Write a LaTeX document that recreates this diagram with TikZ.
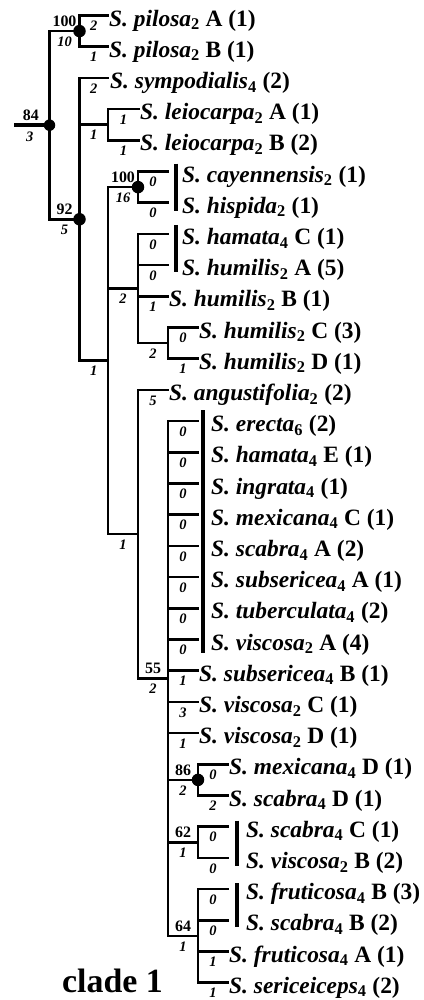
\documentclass[tikz,border=0pt]{standalone}
\usepackage{fontspec}
\setmainfont{Liberation Serif}
\newcommand\leaflab[3]{{\bfseries\itshape #1}\textsubscript{\bfseries\upshape #2}\ {\bfseries\upshape #3}}
\newcommand\yy[1]{(15.5+31.2*(#1-1))}
\tikzset{
  br/.style={line width=2.5bp, line cap=rect, line join=miter},
  rootbr/.style={line width=4bp},
  leaf/.style={anchor=base west, inner sep=0pt, font=\fontsize{23.5}{24}\selectfont},
  len/.style={inner sep=0pt, yshift=-10.5bp, font=\fontsize{14.5}{14.5}\selectfont\bfseries\itshape},
  sup/.style={inner sep=0pt, yshift=10bp, font=\fontsize{16}{16}\selectfont\bfseries},
  dot/.style={circle, fill=black, inner sep=0pt, minimum size=12.5bp},
  bar/.style={line width=4.5bp},
  cladelab/.style={anchor=base, inner sep=0pt, font=\fontsize{34}{34}\selectfont\bfseries}
}
\begin{document}
\begin{tikzpicture}[x=1bp,y=-1bp]
\useasboundingbox (0,0) rectangle (423,1000);
\pgfmathsetmacro\yP{(\yy{1}+\yy{2})/2}
\pgfmathsetmacro\yL{(\yy{4}+\yy{5})/2}
\pgfmathsetmacro\yC{(\yy{6}+\yy{7})/2}
\pgfmathsetmacro\yHD{(\yy{11}+\yy{12})/2}
\pgfmathsetmacro\yH{(\yy{8}+\yHD)/2}
\pgfmathsetmacro\yEF{(\yy{25}+\yy{26})/2}
\pgfmathsetmacro\yST{(\yy{27}+\yy{28})/2}
\pgfmathsetmacro\ySF{(\yy{29}+\yy{32})/2}
\pgfmathsetmacro\yFF{(\yy{14}+\ySF)/2}
\pgfmathsetmacro\yA{(\yy{13}+\yFF)/2}
\pgfmathsetmacro\yB{(\yC+\yA)/2}
\pgfmathsetmacro\yNN{(\yy{3}+\yB)/2}
\pgfmathsetmacro\yR{(\yP+\yNN)/2}
% internal nodes
\coordinate (R0) at (14,\yR);
\coordinate (R) at (49.5,\yR);
\coordinate (P) at (79.5,\yP);
\coordinate (N92) at (79.5,\yNN);
\coordinate (L) at (108,\yL);
\coordinate (B) at (108,\yB);
\coordinate (C100) at (138,\yC);
\coordinate (H) at (138,\yH);
\coordinate (HD) at (168,\yHD);
\coordinate (A) at (138,\yA);
\coordinate (N55) at (168,\yFF);
\coordinate (N86) at (198,\yEF);
\coordinate (N62) at (198,\yST);
\coordinate (N64) at (198,\ySF);
% leaf branch ends and labels: index / end x / text x / text
\foreach \i/\xe/\xt/\txt in {
  1/108/109/{\leaflab{S. pilosa}{2}{A (1)}},
  2/108/109/{\leaflab{S. pilosa}{2}{B (1)}},
  3/108/110/{\leaflab{S. sympodialis}{4}{(2)}},
  4/139/140/{\leaflab{S. leiocarpa}{2}{A (1)}},
  5/139/140/{\leaflab{S. leiocarpa}{2}{B (2)}},
  6/168/182/{\leaflab{S. cayennensis}{2}{(1)}},
  7/168/182/{\leaflab{S. hispida}{2}{(1)}},
  8/168/182/{\leaflab{S. hamata}{4}{C (1)}},
  9/168/182/{\leaflab{S. humilis}{2}{A (5)}},
  10/168/169/{\leaflab{S. humilis}{2}{B (1)}},
  11/198/199/{\leaflab{S. humilis}{2}{C (3)}},
  12/198/199/{\leaflab{S. humilis}{2}{D (1)}},
  13/168/169/{\leaflab{S. angustifolia}{2}{(2)}},
  14/198/211/{\leaflab{S. erecta}{6}{(2)}},
  15/198/211/{\leaflab{S. hamata}{4}{E (1)}},
  16/198/211/{\leaflab{S. ingrata}{4}{(1)}},
  17/198/211/{\leaflab{S. mexicana}{4}{C (1)}},
  18/198/211/{\leaflab{S. scabra}{4}{A (2)}},
  19/198/211/{\leaflab{S. subsericea}{4}{A (1)}},
  20/198/211/{\leaflab{S. tuberculata}{4}{(2)}},
  21/198/211/{\leaflab{S. viscosa}{2}{A (4)}},
  22/198/199/{\leaflab{S. subsericea}{4}{B (1)}},
  23/198/199/{\leaflab{S. viscosa}{2}{C (1)}},
  24/198/199/{\leaflab{S. viscosa}{2}{D (1)}},
  25/228/229/{\leaflab{S. mexicana}{4}{D (1)}},
  26/228/229/{\leaflab{S. scabra}{4}{D (1)}},
  27/228/246/{\leaflab{S. scabra}{4}{C (1)}},
  28/228/246/{\leaflab{S. viscosa}{2}{B (2)}},
  29/228/246/{\leaflab{S. fruticosa}{4}{B (3)}},
  30/228/246/{\leaflab{S. scabra}{4}{B (2)}},
  31/228/229/{\leaflab{S. fruticosa}{4}{A (1)}},
  32/228/229/{\leaflab{S. sericeiceps}{4}{(2)}}} {
  \coordinate (e\i) at (\xe,{\yy{\i}});
  \node[leaf] (t\i) at (\xt,{\yy{\i}+10.5}) {\txt};
}
% root
\draw[rootbr] (R0) -- node[sup,xshift=-1bp]{84} node[len,xshift=-2bp,yshift=-1bp]{3} (R);
% internal branches
\draw[br] (R) |- node[pos=.75,sup]{100} node[pos=.75,len]{10} (P);
\draw[br] (R) |- node[pos=.75,sup]{92} node[pos=.75,len]{5} (N92);
\draw[br] (N92) |- node[pos=.75,len]{1} (L);
\draw[br] (N92) |- node[pos=.75,len]{1} (B);
\draw[br] (B) |- node[pos=.75,sup]{100} node[pos=.75,len]{16} (C100);
\draw[br] (B) |- node[pos=.75,len]{2} (H);
\draw[br] (B) |- node[pos=.75,len]{1} (A);
\draw[br] (H) |- node[pos=.75,len]{2} (HD);
\draw[br] (A) |- node[pos=.75,sup]{55} node[pos=.75,len]{2} (N55);
\draw[br] (N55) |- node[pos=.75,sup]{86} node[pos=.75,len]{2} (N86);
\draw[br] (N55) |- node[pos=.75,sup]{62} node[pos=.75,len]{1} (N62);
\draw[br] (N55) |- node[pos=.75,sup]{64} node[pos=.75,len]{1} (N64);
% leaf branches
\foreach \p/\i/\l in {P/1/2, P/2/1, N92/3/2, L/4/1, L/5/1, C100/6/0, C100/7/0,
  H/8/0, H/9/0, H/10/1, HD/11/0, HD/12/1, A/13/5,
  N55/14/0, N55/15/0, N55/16/0, N55/17/0, N55/18/0, N55/19/0, N55/20/0, N55/21/0,
  N55/22/1, N55/23/3, N55/24/1, N86/25/0, N86/26/2, N62/27/0, N62/28/0,
  N64/29/0, N64/30/0, N64/31/1, N64/32/1} {
  \draw[br] (\p) |- node[pos=.75,len]{\l} (e\i);
}
% support dots
\node[dot,minimum size=11.5bp] (dR) at (R) {};
\node[dot] (dP) at (P) {};
\node[dot] (d92) at (N92) {};
\node[dot] (d100) at (C100) {};
\node[dot] (d86) at (N86) {};
% bars
\draw[bar] (176,{\yy{6}-8}) -- (176,{\yy{7}+8});
\draw[bar] (176,{\yy{8}-9}) -- (176,{\yy{9}+7});
\draw[bar] (203,{\yy{14}-11}) -- (203,{\yy{21}+13});
\draw[bar] (237,{\yy{27}-6}) -- (237,{\yy{28}+8});
\draw[bar] (237,{\yy{29}-6}) -- (237,{\yy{30}+7});
% clade label
\node[cladelab] (clade) at (112.5,992) {clade 1};
\end{tikzpicture}
\end{document}
